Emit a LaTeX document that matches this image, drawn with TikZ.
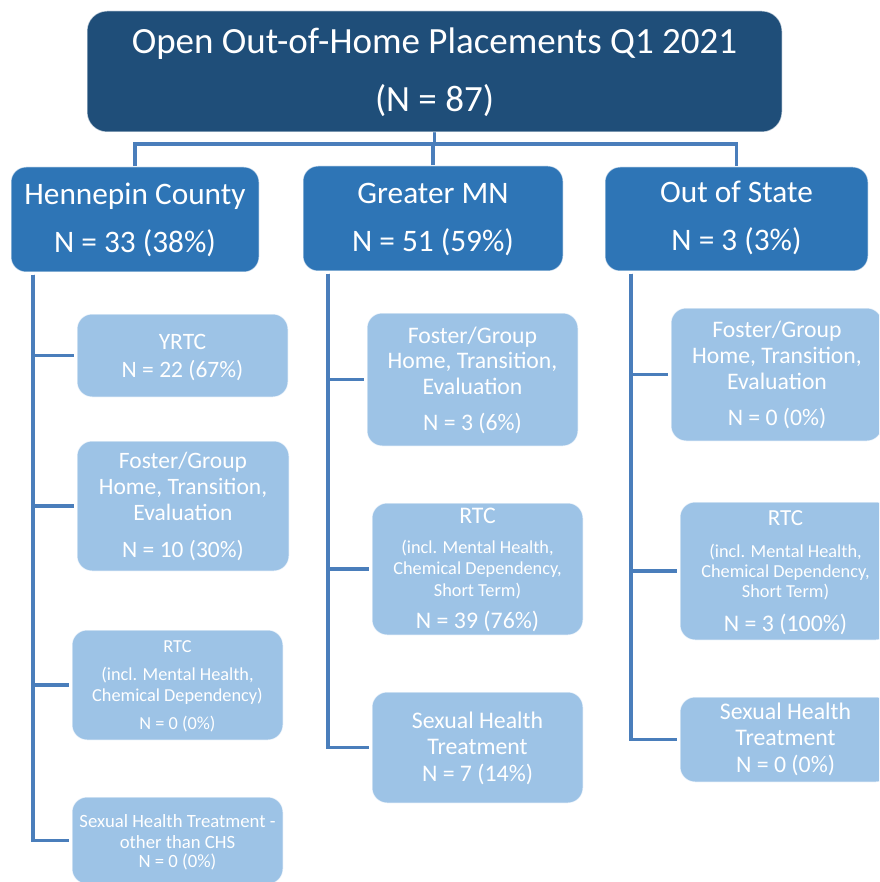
\documentclass[tikz,border=0pt]{standalone}
\usepackage{fontspec}
\setmainfont{Carlito}
\usetikzlibrary{backgrounds}
\definecolor{titlebg}{HTML}{1F4E79}
\definecolor{regionbg}{HTML}{2E75B6}
\definecolor{leafbg}{HTML}{9DC3E6}
\definecolor{linkcol}{HTML}{4A7EBB}
\newcommand{\boxtxt}[4]{\parbox[t]{#1}{\centering\fontsize{#2}{#3}\selectfont #4}}
\newcommand{\fsz}[2]{\fontsize{#1}{#2}\selectfont}
\tikzset{
  titlebox/.style={rounded corners=20pt, fill=titlebg, draw=white, draw opacity=0.6, line width=1pt, inner sep=0pt},
  regionbox/.style={rounded corners=15pt, fill=regionbg, draw=white, draw opacity=0.6, line width=1pt, inner sep=0pt},
  leafbox/.style={rounded corners=15pt, fill=leafbg, draw=white, draw opacity=0.7, line width=1pt, inner sep=0pt},
  lbl/.style={text=white, inner sep=0pt, anchor=base},
  connector/.style={draw=linkcol, line width=3.2pt, line join=miter},
}
\begin{document}
\begin{tikzpicture}[x=1pt,y=-1pt]
\path[use as bounding box] (0,0) rectangle (879,882);
\clip (0,0) rectangle (879,882);

% title
\node[titlebox, minimum width=695pt, minimum height=121pt] (title) at (434.5,71.5) {};
\node[lbl] (titletxt) at (434.5,54) {\boxtxt{680pt}{37}{58}{Open Out-of-Home Placements Q1 2021\\(N = 87)}};

% regions
\node[regionbox, minimum width=248pt, minimum height=105pt] (hc) at (135,219.5) {};
\node[lbl] (hctxt) at (135,205) {\boxtxt{260pt}{31.3}{48}{Hennepin County\\N = 33 (38\%)}};
\node[regionbox, minimum width=260pt, minimum height=105pt] (gm) at (433,218.5) {};
\node[lbl] (gmtxt) at (433,204) {\boxtxt{260pt}{31.3}{48}{Greater MN\\N = 51 (59\%)}};
\node[regionbox, minimum width=263pt, minimum height=104pt] (os) at (736.5,219) {};
\node[lbl] (ostxt) at (736.5,203) {\boxtxt{260pt}{31.3}{48}{Out of State\\N = 3 (3\%)}};

% Hennepin leaves
\node[leafbox, minimum width=211pt, minimum height=83pt] (h1) at (182.5,355.5) {};
\node[lbl] (h1txt) at (182.5,349) {\boxtxt{260pt}{23.5}{28}{YRTC\\N = 22 (67\%)}};
\node[leafbox, minimum width=212pt, minimum height=130pt] (h2) at (183,506) {};
\node[lbl] (h2txt) at (183,468) {\boxtxt{260pt}{23.5}{26}{Foster/Group\\Home, Transition,\\Evaluation\\[11pt]N = 10 (30\%)}};
\node[leafbox, minimum width=211pt, minimum height=110pt] (h3) at (177.5,685) {};
\node[lbl] (h3txt) at (177.5,652) {\boxtxt{260pt}{18.3}{20}{RTC\\[8pt](incl. Mental Health,\\[1pt]Chemical Dependency)\\[8pt]N = 0 (0\%)}};
\node[leafbox, minimum width=211pt, minimum height=87pt] (h4) at (177.5,840.5) {};
\node[lbl] (h4txt) at (177.5,827) {\boxtxt{260pt}{18.7}{20}{Sexual Health Treatment -\\[1pt]other than CHS\\[-1pt]N = 0 (0\%)}};

% Greater MN leaves
\node[leafbox, minimum width=211pt, minimum height=133pt] (g1) at (472.5,379.5) {};
\node[lbl] (g1txt) at (472.5,343) {\boxtxt{260pt}{23.7}{25.5}{Foster/Group\\Home, Transition,\\Evaluation\\[10.5pt]N = 3 (6\%)}};
\node[leafbox, minimum width=211pt, minimum height=132pt] (g2) at (477.5,569) {};
\node[lbl] (g2txt) at (477.5,523) {\boxtxt{260pt}{18.3}{20}{{\fsz{23.8}{20}RTC}\\[10pt](incl. Mental Health,\\[1pt]Chemical Dependency,\\[2pt]Short Term)\\[12pt]{\fsz{23.8}{20}N = 39 (76\%)}}};
\node[leafbox, minimum width=211pt, minimum height=111pt] (g3) at (477.5,747.5) {};
\node[lbl] (g3txt) at (477.5,728) {\boxtxt{260pt}{23.8}{26.5}{Sexual Health\\Treatment\\N = 7 (14\%)}};

% Out of State leaves
\node[leafbox, minimum width=211pt, minimum height=133pt] (o1) at (776.5,374.5) {};
\node[lbl] (o1txt) at (777,337) {\boxtxt{260pt}{23.7}{26}{Foster/Group\\Home, Transition,\\Evaluation\\[10pt]N = 0 (0\%)}};
\node[leafbox, minimum width=211pt, minimum height=138pt] (o2) at (785.5,571) {};
\node[lbl] (o2txt) at (785.5,525) {\boxtxt{260pt}{18.3}{20}{{\fsz{23}{20}RTC}\\[12pt](incl. Mental Health,\\Chemical Dependency,\\Short Term)\\[14pt]{\fsz{23.8}{20}N = 3 (100\%)}}};
\node[leafbox, minimum width=211pt, minimum height=85pt] (o3) at (785.5,739.5) {};
\node[lbl] (o3txt) at (785.5,719) {\boxtxt{260pt}{23.8}{26.5}{Sexual Health\\Treatment\\N = 0 (0\%)}};

% connectors
\begin{scope}[on background layer]
\coordinate (bus) at (434.5,144);
\coordinate (ht) at (33,0);
\coordinate (gt) at (328,0);
\coordinate (ot) at (631,0);
\draw[connector] (title.south) -- (title.south |- bus);
\draw[connector] (hc.north) -- (hc.north |- bus) -- (os.north |- bus) -- (os.north);
\draw[connector] (gm.north) -- (gm.north |- bus);
\foreach \leaf in {h1,h2,h3,h4}
  \draw[connector, shorten >=3pt] ([yshift=-2pt]hc.south -| ht) |- (\leaf.west);
\foreach \leaf in {g1,g2,g3}
  \draw[connector, shorten >=3pt] ([yshift=-2pt]gm.south -| gt) |- (\leaf.west);
\foreach \leaf in {o1,o2,o3}
  \draw[connector, shorten >=3pt] ([yshift=-2pt]os.south -| ot) |- (\leaf.west);
\end{scope}
\end{tikzpicture}
\end{document}
